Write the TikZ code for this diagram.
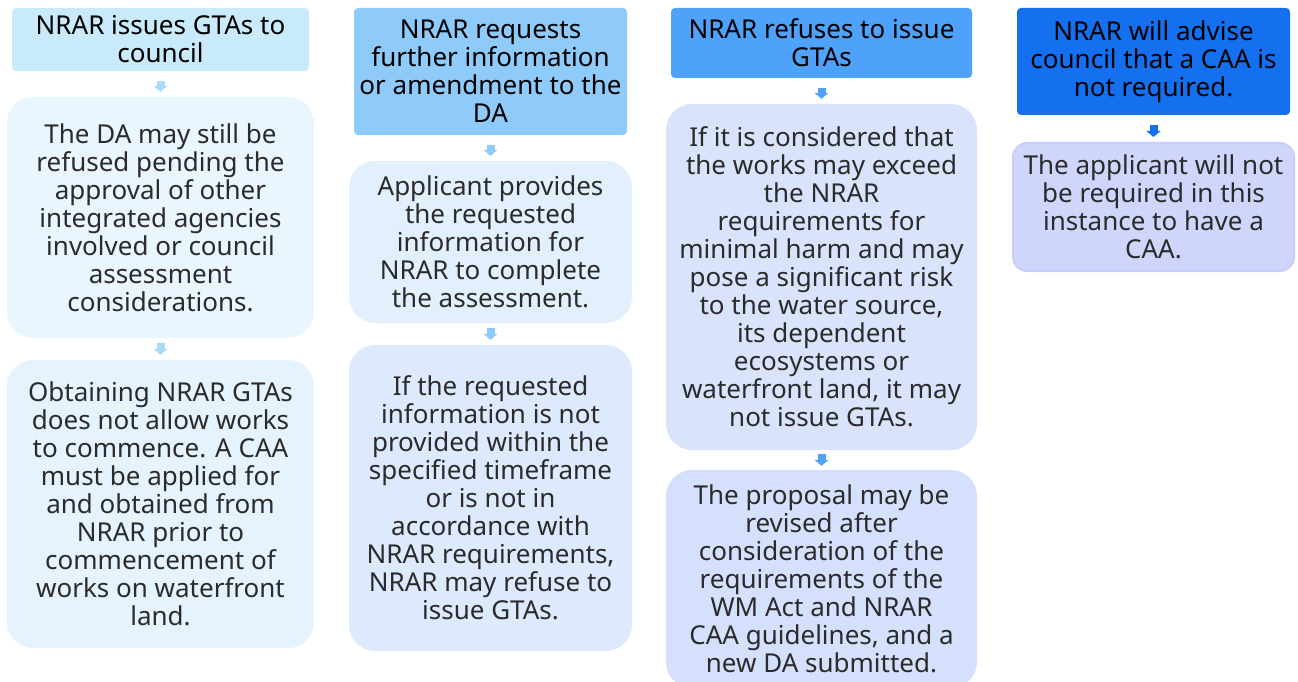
\documentclass[tikz,border=0pt]{standalone}
\usepackage{fontspec}
\setmainfont{Noto Sans}
\usetikzlibrary{arrows.meta}
\definecolor{hdA}{HTML}{C9EAFB}
\definecolor{hdB}{HTML}{8FCBFA}
\definecolor{hdC}{HTML}{4EA2F9}
\definecolor{hdD}{HTML}{1570EF}
\definecolor{arA}{HTML}{A8DBF8}
\definecolor{bxA}{HTML}{EAF6FE}
\definecolor{bxAA}{HTML}{E5F3FE}
\definecolor{bxB}{HTML}{E2F0FD}
\definecolor{bxBB}{HTML}{DDE9FD}
\definecolor{bxC}{HTML}{D9E4FC}
\definecolor{bxCC}{HTML}{D5E0FC}
\definecolor{bxD}{HTML}{D0D6FB}
\definecolor{txt}{HTML}{2B2B2B}
\tikzset{
  hd/.style={rectangle, rounded corners=4pt, inner sep=0pt, align=center,
    font=\fontsize{26}{28}\selectfont, text=black},
  bx/.style={rectangle, rounded corners=26pt, inner sep=0pt, align=center,
    font=\fontsize{26}{28}\selectfont, text=txt},
  arr/.style={-{Triangle[width=14pt,length=6pt]}, line width=8pt,
    shorten <=10pt, shorten >=5pt},
  arrb/.style={arr, shorten <=5pt, shorten >=5pt},
}
\begin{document}
\begin{tikzpicture}[x=1pt,y=-1pt]
\useasboundingbox (0,0) rectangle (1298,682);
% column 1
\node[hd, fill=hdA, minimum width=297pt, minimum height=63pt] (hd1) at (160.5,39.5)
  {NRAR issues GTAs to\\council};
\node[bx, fill=bxA, minimum width=307pt, minimum height=241pt] (bx1a) at (160.5,217.5)
  {The DA may still be\\refused pending the\\approval of other\\integrated agencies\\involved or council\\assessment\\considerations.};
\node[bx, fill=bxAA, minimum width=307pt, minimum height=288pt] (bx1b) at (160.5,504)
  {Obtaining NRAR GTAs\\does not allow works\\to commence. A CAA\\must be applied for\\and obtained from\\NRAR prior to\\commencement of\\works on waterfront\\land.};
\draw[arr, arA] (hd1) -- (bx1a);
\draw[arrb, arA] (bx1a) -- (bx1b);
% column 2
\node[hd, fill=hdB, minimum width=273pt, minimum height=127pt] (hd2) at (490.5,71.5)
  {NRAR requests\\further information\\or amendment to the\\DA};
\node[bx, fill=bxB, minimum width=283pt, minimum height=162pt] (bx2a) at (490.5,242)
  {Applicant provides\\the requested\\information for\\NRAR to complete\\the assessment.};
\node[bx, fill=bxBB, minimum width=283pt, minimum height=306pt] (bx2b) at (490.5,498)
  {If the requested\\information is not\\provided within the\\specified timeframe\\or is not in\\accordance with\\NRAR requirements,\\NRAR may refuse to\\issue GTAs.};
\draw[arr, hdB] (hd2) -- (bx2a);
\draw[arrb, hdB] (bx2a) -- (bx2b);
% column 3
\node[hd, fill=hdC, minimum width=301pt, minimum height=70pt] (hd3) at (821.5,43)
  {NRAR refuses to issue\\GTAs};
\node[bx, fill=bxC, minimum width=311pt, minimum height=346pt] (bx3a) at (821.5,277)
  {If it is considered that\\the works may exceed\\the NRAR\\requirements for\\minimal harm and may\\pose a significant risk\\to the water source,\\its dependent\\ecosystems or\\waterfront land, it may\\not issue GTAs.};
\node[bx, fill=bxCC, minimum width=311pt, minimum height=218pt] (bx3b) at (821.5,579)
  {The proposal may be\\revised after\\consideration of the\\requirements of the\\WM Act and NRAR\\CAA guidelines, and a\\new DA submitted.};
\draw[arr, hdC] (hd3) -- (bx3a);
\draw[arrb, hdC, shorten <=4pt, shorten >=4pt] (bx3a) -- (bx3b);
% column 4
\node[hd, fill=hdD, minimum width=273pt, minimum height=107pt] (hd4) at (1153.5,61.5)
  {NRAR will advise\\council that a CAA is\\not required.};
\node[bx, fill=bxD, draw=bxD!90!blue!80, line width=2pt, rounded corners=14pt,
  minimum width=281pt, minimum height=128pt] (bx4a) at (1153.5,207)
  {The applicant will not\\be required in this\\instance to have a\\CAA.};
\draw[arr, hdD] (hd4) -- (bx4a);
\end{tikzpicture}
\end{document}
